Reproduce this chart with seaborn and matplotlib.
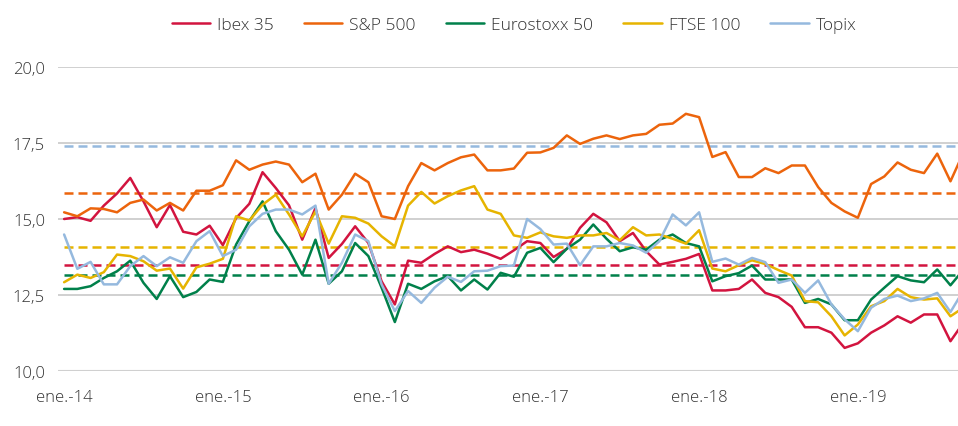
import numpy as np
import pandas as pd
import matplotlib
matplotlib.use('Agg')
import matplotlib.pyplot as plt
import seaborn as sns

# monthly series, ene.-14 onwards (last point falls just outside the crop)
ibex = [15.0, 15.06, 14.94, 15.44, 15.84, 16.35, 15.58, 14.73, 15.46, 14.58, 14.49, 14.78,
        14.14, 15.03, 15.5, 16.54, 16.02, 15.45, 14.32, 15.36, 13.72, 14.18, 14.76, 14.21,
        12.95, 12.19, 13.63, 13.56, 13.85, 14.1, 13.91, 13.99, 13.86, 13.69, 13.97, 14.27,
        14.21, 13.75, 14.02, 14.71, 15.17, 14.89, 14.27, 14.54, 13.94, 13.5, 13.59, 13.69,
        13.85, 12.65, 12.65, 12.7, 13.01, 12.57, 12.43, 12.11, 11.44, 11.44, 11.26, 10.76,
        10.91, 11.26, 11.5, 11.8, 11.59, 11.86, 11.86, 10.98, 11.6]
sp500 = [15.22, 15.09, 15.35, 15.33, 15.22, 15.53, 15.64, 15.28, 15.53, 15.28, 15.93, 15.93,
         16.11, 16.93, 16.62, 16.79, 16.89, 16.79, 16.21, 16.49, 15.31, 15.8, 16.49, 16.21,
         15.09, 15.0, 16.08, 16.84, 16.6, 16.84, 17.03, 17.12, 16.6, 16.6, 16.66, 17.18,
         17.19, 17.34, 17.75, 17.47, 17.64, 17.75, 17.63, 17.75, 17.8, 18.1, 18.14, 18.46,
         18.35, 17.04, 17.2, 16.38, 16.38, 16.67, 16.51, 16.76, 16.76, 16.05, 15.53, 15.25,
         15.04, 16.15, 16.4, 16.86, 16.62, 16.51, 17.15, 16.24, 17.2]
eurostoxx = [12.7, 12.7, 12.79, 13.06, 13.28, 13.63, 12.9, 12.37, 13.12, 12.43, 12.6, 13.01,
             12.93, 14.16, 14.93, 15.58, 14.6, 13.99, 13.17, 14.32, 12.87, 13.28, 14.21, 13.78,
             12.74, 11.61, 12.87, 12.7, 12.95, 13.12, 12.65, 13.01, 12.68, 13.23, 13.1, 13.89,
             14.05, 13.58, 14.02, 14.32, 14.82, 14.35, 13.94, 14.07, 13.99, 14.32, 14.49, 14.21,
             14.1, 12.95, 13.12, 13.22, 13.47, 13.01, 13.01, 13.01, 12.24, 12.37, 12.19, 11.67,
             11.67, 12.35, 12.74, 13.12, 12.98, 12.92, 13.34, 12.82, 13.34]
ftse = [12.92, 13.17, 13.06, 13.25, 13.83, 13.78, 13.61, 13.3, 13.37, 12.71, 13.41, 13.53,
        13.69, 15.09, 14.95, 15.47, 15.8, 15.15, 14.43, 15.25, 14.19, 15.09, 15.04, 14.85,
        14.43, 14.1, 15.44, 15.89, 15.51, 15.75, 15.94, 16.08, 15.31, 15.17, 14.46, 14.38,
        14.56, 14.43, 14.38, 14.46, 14.46, 14.54, 14.3, 14.73, 14.46, 14.49, 14.35, 14.19,
        14.63, 13.37, 13.28, 13.48, 13.64, 13.52, 13.32, 13.14, 12.3, 12.26, 11.8, 11.17,
        11.53, 12.13, 12.3, 12.7, 12.43, 12.35, 12.39, 11.8, 12.09]
topix = [14.49, 13.36, 13.59, 12.85, 12.85, 13.45, 13.78, 13.45, 13.74, 13.56, 14.27, 14.6,
         13.78, 13.99, 14.76, 15.17, 15.31, 15.31, 15.15, 15.44, 12.87, 13.56, 14.49, 14.27,
         12.85, 11.97, 12.63, 12.24, 12.74, 13.1, 12.93, 13.28, 13.3, 13.45, 13.47, 15.0,
         14.67, 14.16, 14.19, 13.48, 14.1, 14.1, 14.21, 14.13, 13.89, 14.27, 15.15, 14.79,
         15.22, 13.59, 13.7, 13.5, 13.72, 13.58, 12.9, 13.01, 12.57, 12.98, 12.19, 11.7,
         11.31, 12.08, 12.37, 12.48, 12.3, 12.39, 12.57, 11.94, 12.66]

# long-run averages (dashed lines)
names = ['Ibex 35', 'S&P 500', 'Eurostoxx 50', 'FTSE 100', 'Topix']
averages = [13.48, 15.84, 13.17, 14.07, 17.4]
colors = ['#D2143F', '#EC640C', '#00804A', '#E6B400', '#95B9DE']

tick_pos = [0, 12, 24, 36, 48, 60]
tick_labels = ['ene.-14', 'ene.-15', 'ene.-16', 'ene.-17', 'ene.-18', 'ene.-19']

series = [ibex, sp500, eurostoxx, ftse, topix]
df = pd.concat([pd.DataFrame({'mes': np.arange(len(s)), 'valor': s, 'indice': n})
                for s, n in zip(series, names)], ignore_index=True)

sns.set_style('white')
plt.rcParams['font.family'] = ['Open Sans', 'DejaVu Sans']
plt.rcParams['font.weight'] = 'light'

fig = plt.figure(figsize=(9.58, 4.27), dpi=100)
ax = fig.add_axes([57.5 / 958, 55 / 427, (958 - 57.5) / 958, 304 / 427])

n = len(ibex)
for avg, c in zip(averages, colors):
    ax.hlines(avg, 0, n - 1, colors=c, linestyles=(0, (3.6, 2.0)), lw=1.8, zorder=2)

sns.lineplot(data=df, x='mes', y='valor', hue='indice', palette=dict(zip(names, colors)),
             hue_order=names, lw=1.8, ax=ax, legend=False, zorder=3)

ax.set_xlim(-0.5, 67.57)
ax.set_ylim(10, 20)
ax.set_yticks([10, 12.5, 15, 17.5, 20])
ax.set_yticklabels(['10,0', '12,5', '15,0', '17,5', '20,0'])
ax.set_xticks(tick_pos)
ax.set_xticklabels(tick_labels)
ax.set_xlabel('')
ax.set_ylabel('')
for y in [12.5, 15, 17.5, 20]:
    ax.axhline(y, color='#C4C4C4', lw=1.1, zorder=1)
ax.axhline(10, color='#D0D0D0', lw=1.5, zorder=1)
for s in ax.spines.values():
    s.set_visible(False)
ax.tick_params(axis='both', length=0, labelsize=12, colors='#333333')
ax.tick_params(axis='y', pad=9)
ax.tick_params(axis='x', pad=13)

handles = [plt.Line2D([], [], color=c, lw=1.8) for c in colors]
fig.legend(handles, names, loc='center', bbox_to_anchor=(514 / 958, 1 - 26 / 427),
           ncol=5, frameon=False, fontsize=12.5, handlelength=2.2, handletextpad=0.4,
           columnspacing=1.75, labelcolor='#333333')

fig.savefig('out.png', dpi=100)
